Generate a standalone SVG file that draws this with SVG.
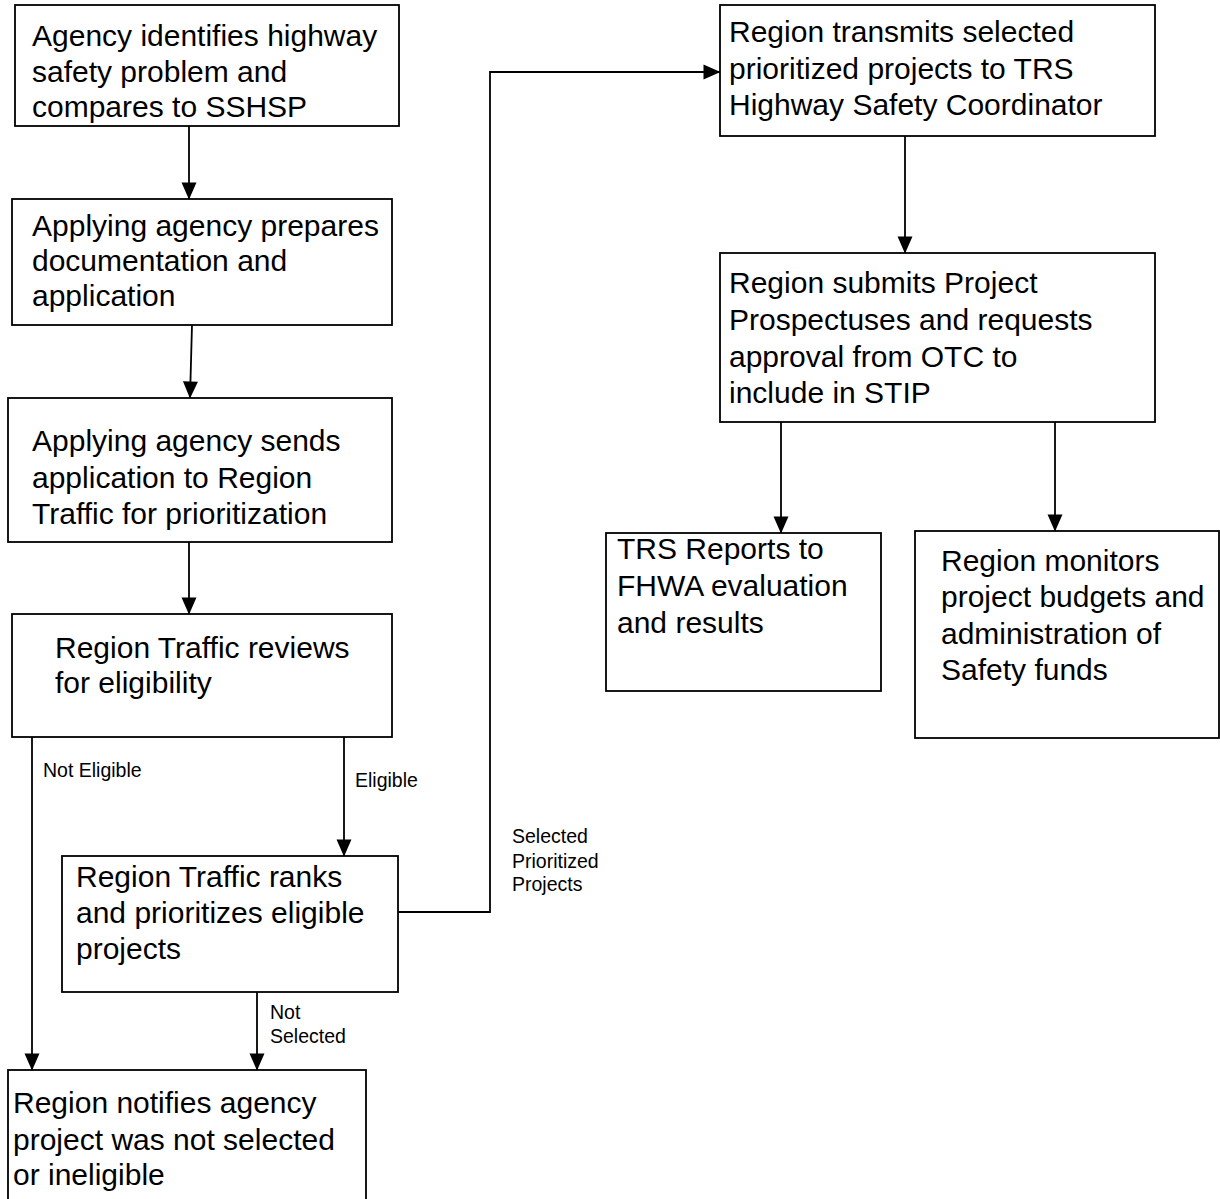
<svg xmlns="http://www.w3.org/2000/svg" width="1220" height="1199" viewBox="0 0 1220 1199">
<style>
.box{fill:#fff;stroke:#000;stroke-width:1.8}
.t{font-family:"Liberation Sans",Arial,sans-serif;font-size:30px;fill:#000}
.l{font-family:"Liberation Sans",Arial,sans-serif;font-size:19.5px;fill:#000}
.c{fill:none;stroke:#000;stroke-width:1.8}
</style>
<defs>
<marker id="ah" markerUnits="userSpaceOnUse" viewBox="0 0 17 15" markerWidth="17" markerHeight="15" refX="16.5" refY="7.5" orient="auto" overflow="visible">
<path d="M0,0 L17,7.5 L0,15 z" fill="#000"/>
</marker>
</defs>
<rect width="1220" height="1199" fill="#fff"/>
<g id="connectors">
<path class="c" d="M189,126 L189,199" marker-end="url(#ah)"/>
<path class="c" d="M192,325 L190,398" marker-end="url(#ah)"/>
<path class="c" d="M189,542 L189,614" marker-end="url(#ah)"/>
<path class="c" d="M32,737 L32,1070" marker-end="url(#ah)"/>
<path class="c" d="M344,737 L344,856" marker-end="url(#ah)"/>
<path class="c" d="M398,912 L490,912 L490,72 L720,72" marker-end="url(#ah)"/>
<path class="c" d="M257,992 L257,1070" marker-end="url(#ah)"/>
<path class="c" d="M905,136 L905,253" marker-end="url(#ah)"/>
<path class="c" d="M781,422 L781,533" marker-end="url(#ah)"/>
<path class="c" d="M1055,422 L1055,531" marker-end="url(#ah)"/>
<text class="l" x="43" y="777">Not Eligible</text>
<text class="l" x="355" y="787">Eligible</text>
<text class="l" x="512" y="843">Selected</text>
<text class="l" x="512" y="868">Prioritized</text>
<text class="l" x="512" y="891">Projects</text>
<text class="l" x="270" y="1019">Not</text>
<text class="l" x="270" y="1043">Selected</text>
</g>
<g id="n1">
<rect class="box" x="15" y="5" width="384" height="121"/>
<text class="t" x="32" y="46">Agency identifies highway</text>
<text class="t" x="32" y="82">safety problem and</text>
<text class="t" x="32" y="117">compares to SSHSP</text>
</g>
<g id="n2">
<rect class="box" x="12" y="199" width="380" height="126"/>
<text class="t" x="32" y="236">Applying agency prepares</text>
<text class="t" x="32" y="271">documentation and</text>
<text class="t" x="32" y="306">application</text>
</g>
<g id="n3">
<rect class="box" x="8" y="398" width="384" height="144"/>
<text class="t" x="32" y="451">Applying agency sends</text>
<text class="t" x="32" y="488">application to Region</text>
<text class="t" x="32" y="524">Traffic for prioritization</text>
</g>
<g id="n4">
<rect class="box" x="12" y="614" width="380" height="123"/>
<text class="t" x="55" y="658">Region Traffic reviews</text>
<text class="t" x="55" y="693">for eligibility</text>
</g>
<g id="n5">
<rect class="box" x="62" y="856" width="336" height="136"/>
<text class="t" x="76" y="887">Region Traffic ranks</text>
<text class="t" x="76" y="923">and prioritizes eligible</text>
<text class="t" x="76" y="959">projects</text>
</g>
<g id="n6">
<rect class="box" x="8" y="1070" width="358" height="140"/>
<text class="t" x="13" y="1113">Region notifies agency</text>
<text class="t" x="13" y="1150">project was not selected</text>
<text class="t" x="13" y="1185">or ineligible</text>
</g>
<g id="n7">
<rect class="box" x="720" y="5" width="435" height="131"/>
<text class="t" x="729" y="42">Region transmits selected</text>
<text class="t" x="729" y="79">prioritized projects to TRS</text>
<text class="t" x="729" y="115">Highway Safety Coordinator</text>
</g>
<g id="n8">
<rect class="box" x="720" y="253" width="435" height="169"/>
<text class="t" x="729" y="293">Region submits Project</text>
<text class="t" x="729" y="330">Prospectuses and requests</text>
<text class="t" x="729" y="367">approval from OTC to</text>
<text class="t" x="729" y="403">include in STIP</text>
</g>
<g id="n9">
<rect class="box" x="606" y="533" width="275" height="158"/>
<text class="t" x="617" y="559">TRS Reports to</text>
<text class="t" x="617" y="596">FHWA evaluation</text>
<text class="t" x="617" y="633">and results</text>
</g>
<g id="n10">
<rect class="box" x="915" y="531" width="304" height="207"/>
<text class="t" x="941" y="571">Region monitors</text>
<text class="t" x="941" y="607">project budgets and</text>
<text class="t" x="941" y="644">administration of</text>
<text class="t" x="941" y="680">Safety funds</text>
</g>
</svg>
